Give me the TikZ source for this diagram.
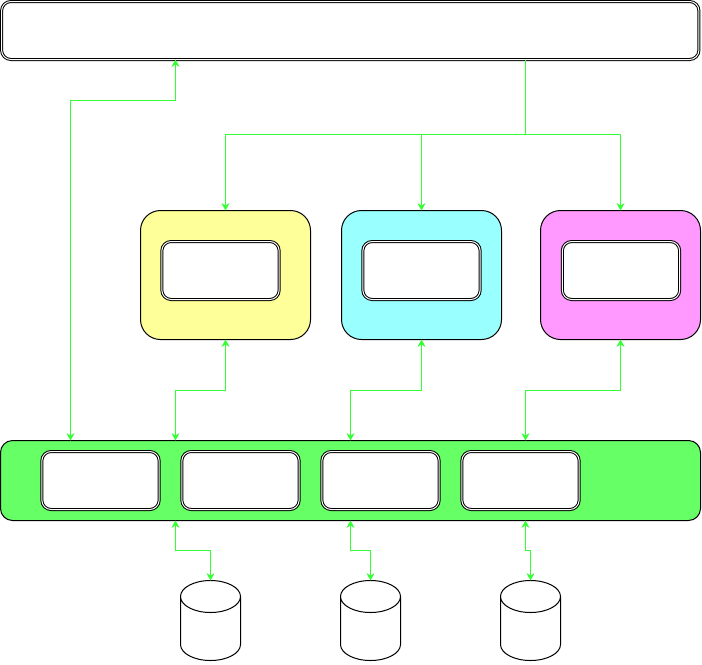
\documentclass[tikz,border=0pt]{standalone}
\usepackage{tikz}
\usetikzlibrary{shapes.geometric, arrows.meta, positioning, calc}
\usepackage{xcolor}
\definecolor{linkgreen}{HTML}{33FF33}
\definecolor{busgreen}{HTML}{66FF66}
\definecolor{paleyellow}{HTML}{FFFF99}
\definecolor{palecyan}{HTML}{99FFFF}
\definecolor{palepink}{HTML}{FF99FF}

\begin{document}
\begin{tikzpicture}[
    x=0.75pt, y=-0.75pt,
    every node/.style={inner sep=0pt, outer sep=0pt},
    outerbox/.style={draw, line width=0.75pt, double, double distance=0.75pt, fill=white,
                rounded corners=7pt, minimum width=523pt, minimum height=43.5pt},
    innerbox/.style={draw, line width=0.75pt, double, double distance=0.75pt, fill=white,
                rounded corners=7pt, minimum width=88pt, minimum height=43.5pt},
    unit/.style={draw, line width=0.75pt, rounded corners=15pt, minimum height=96.75pt},
    bus/.style={draw, line width=0.75pt, fill=busgreen, rounded corners=9pt,
                minimum width=525pt, minimum height=60pt},
    disk/.style={draw, line width=0.75pt, cylinder, shape border rotate=90, shape aspect=1.2,
                anchor=shape center, minimum width=45pt, minimum height=60pt},
    oneway/.style={draw=linkgreen, line width=0.75pt, -{Stealth[length=5.5pt, width=6pt]}},
    twoway/.style={draw=linkgreen, line width=0.75pt, {Stealth[length=5.5pt, width=6pt]}-{Stealth[length=5.5pt, width=6pt]}}
]
    \useasboundingbox (0,0) rectangle (702,664);

    \node[outerbox] (top) at (350.25, 30.5) {};

    \node[unit, fill=paleyellow, minimum width=127.5pt] (yellow)  at (225.5, 275) {};
    \node[unit, fill=palecyan,   minimum width=120pt]   (cyan)    at (421.5, 275) {};
    \node[unit, fill=palepink,   minimum width=120pt]   (pink)    at (620.5, 275) {};
    \node[innerbox] (yellowin) at (220.5, 270.5) {};
    \node[innerbox] (cyanin)   at (421.5, 270.5) {};
    \node[innerbox] (pinkin)   at (621,   270.5) {};

    \node[bus] (bar) at (350.5, 480.5) {};
    \node[innerbox] (slota) at (100.5, 480.5) {};
    \node[innerbox] (slotb) at (240.5, 480.5) {};
    \node[innerbox] (slotc) at (380.5, 480.5) {};
    \node[innerbox] (slotd) at (520.5, 480.5) {};

    \node[disk] (diska) at (210.5, 620.5) {\phantom{\rule{20pt}{20pt}}};
    \node[disk] (diskb) at (370.5, 620.5) {\phantom{\rule{20pt}{20pt}}};
    \node[disk] (diskc) at (530.5, 620.5) {\phantom{\rule{20pt}{20pt}}};

    % bends
    \coordinate (up)    at (175.5, 100.5);
    \coordinate (left)  at (70.5,  100.5);
    \coordinate (trunk) at (525.5, 134.5);
    \coordinate (ya)    at (175.5, 390.5);
    \coordinate (yb)    at (350.5, 390.5);
    \coordinate (yc)    at (525.5, 390.5);
    \coordinate (da)    at (175.5, 550.5);
    \coordinate (db)    at (350.5, 550.5);
    \coordinate (dc)    at (525.5, 550.5);

    \draw[twoway] (top.south -| up) -- (up) -- (left) -- (bar.north -| left);

    \draw[draw=linkgreen, line width=0.75pt] (top.south -| trunk) -- (trunk);
    \draw[oneway] (trunk) -| (yellow.north);
    \draw[oneway] (trunk) -| (cyan.north);
    \draw[oneway] (trunk) -| (pink.north);

    \draw[twoway] (yellow.south) |- (ya) -- (bar.north -| ya);
    \draw[twoway] (cyan.south)   |- (yb) -- (bar.north -| yb);
    \draw[twoway] (pink.south)   |- (yc) -- (bar.north -| yc);

    \draw[twoway] (bar.south -| da) -- (da) -| (diska.north);
    \draw[twoway] (bar.south -| db) -- (db) -| (diskb.north);
    \draw[twoway] (bar.south -| dc) -- (dc) -| (diskc.north);
\end{tikzpicture}
\end{document}
